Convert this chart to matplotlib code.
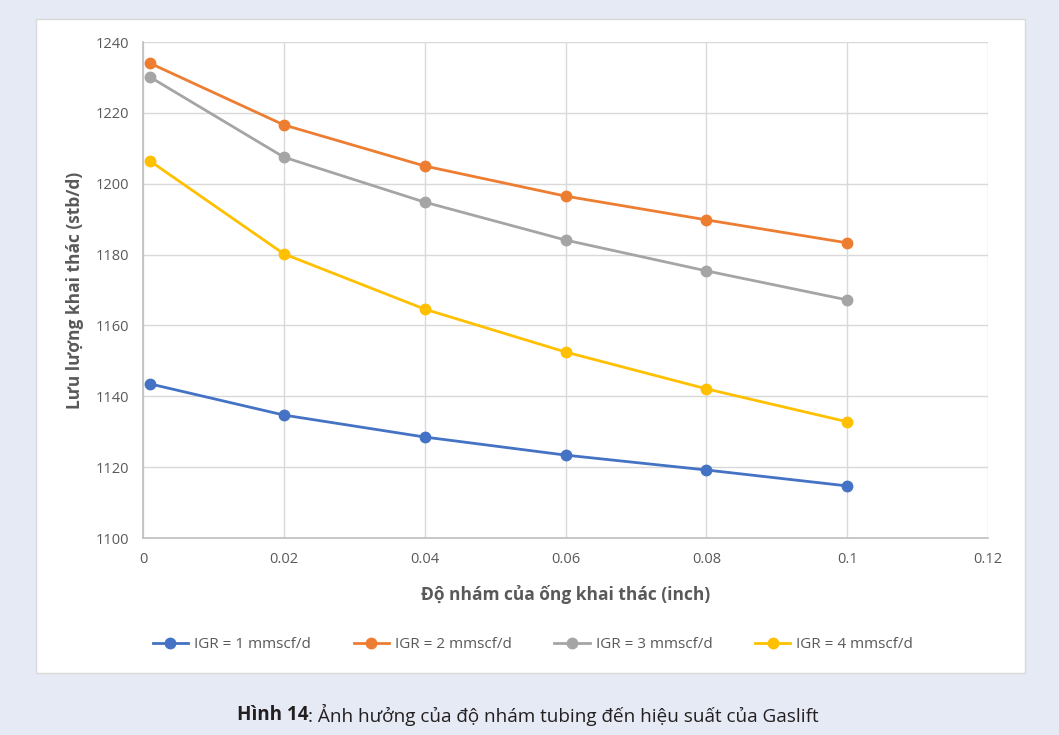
import matplotlib.pyplot as plt
from matplotlib.patches import Rectangle

# do nham ong (inch) va luu luong khai thac (stb/d) cho tung IGR
roughness = [0.001, 0.02, 0.04, 0.06, 0.08, 0.1]
igr_1 = [1143.5, 1134.7, 1128.5, 1123.4, 1119.2, 1114.7]
igr_2 = [1234.0, 1216.6, 1205.0, 1196.5, 1189.8, 1183.3]
igr_3 = [1230.1, 1207.5, 1194.8, 1184.1, 1175.4, 1167.2]
igr_4 = [1206.4, 1180.2, 1164.6, 1152.5, 1142.1, 1132.8]
labels = ['IGR = 1 mmscf/d', 'IGR = 2 mmscf/d', 'IGR = 3 mmscf/d', 'IGR = 4 mmscf/d']
colors = ['#4472C4', '#ED7D31', '#A5A5A5', '#FFC000']

x_ticks = [0, 0.02, 0.04, 0.06, 0.08, 0.1, 0.12]
x_ticklabels = ['0', '0.02', '0.04', '0.06', '0.08', '0.1', '0.12']
y_ticks = list(range(1100, 1241, 20))

plt.rcParams['font.family'] = ['Open Sans', 'DejaVu Sans']
txt = '#595959'
W, H = 1059, 735

fig = plt.figure(figsize=(W / 100, H / 100), dpi=100)
fig.patch.set_facecolor('#e6eaf5')

# khung trang cua bieu do (axes nen)
bg = fig.add_axes([0, 0, 1, 1], zorder=-1)
bg.set_xlim(0, W)
bg.set_ylim(H, 0)
bg.axis('off')
bg.add_patch(Rectangle((36, 19), 1025 - 36, 673 - 19, facecolor='white',
                       edgecolor='#d9d9d9', linewidth=1))

ax = fig.add_axes([143 / W, 1 - 538 / H, (988 - 143) / W, (538 - 42) / H])
ax.set_facecolor('none')

for ys, c, lab in zip([igr_1, igr_2, igr_3, igr_4], colors, labels):
    ax.plot(roughness, ys, color=c, lw=2, marker='o', ms=7.5, label=lab, zorder=3)

ax.set_xlim(0, 0.12)
ax.set_ylim(1100, 1240)
ax.set_xticks(x_ticks)
ax.set_xticklabels(x_ticklabels)
ax.set_yticks(y_ticks)
ax.grid(True, color='#d9d9d9', lw=1)
ax.set_axisbelow(True)
for s in ['top', 'right']:
    ax.spines[s].set_visible(False)
for s in ['left', 'bottom']:
    ax.spines[s].set_color('#bfbfbf')
    ax.spines[s].set_linewidth(1.2)
ax.tick_params(length=0, labelsize=10.5, labelcolor=txt, pad=10)

ax.set_xlabel('Độ nhám của ống khai thác (inch)', fontsize=12.5, fontweight='bold',
              color=txt, labelpad=13)
ax.set_ylabel('Lưu lượng khai thác (stb/d)', fontsize=12.5, fontweight='bold',
              color=txt, labelpad=8)

fig.legend(loc='center', bbox_to_anchor=(533 / W, 1 - 645 / H), ncol=4,
           frameon=False, fontsize=11, labelcolor=txt, handlelength=2.3,
           columnspacing=2.8, handletextpad=0.4)

# chu thich hinh: phan dam + phan thuong
cap_bold = fig.text(237 / W, 1 - 715 / H, 'Hình 14', ha='left', va='center',
                    fontsize=13.6, fontweight='bold', color='#231f20')
ann = bg.annotate(': Ảnh hưởng của độ nhám tubing đến hiệu suất của Gaslift',
                  xy=(1, 0.5), xycoords=cap_bold, ha='left', va='center',
                  fontsize=13.6, color='#231f20')

fig.savefig('out.png', dpi=100, facecolor=fig.get_facecolor())
